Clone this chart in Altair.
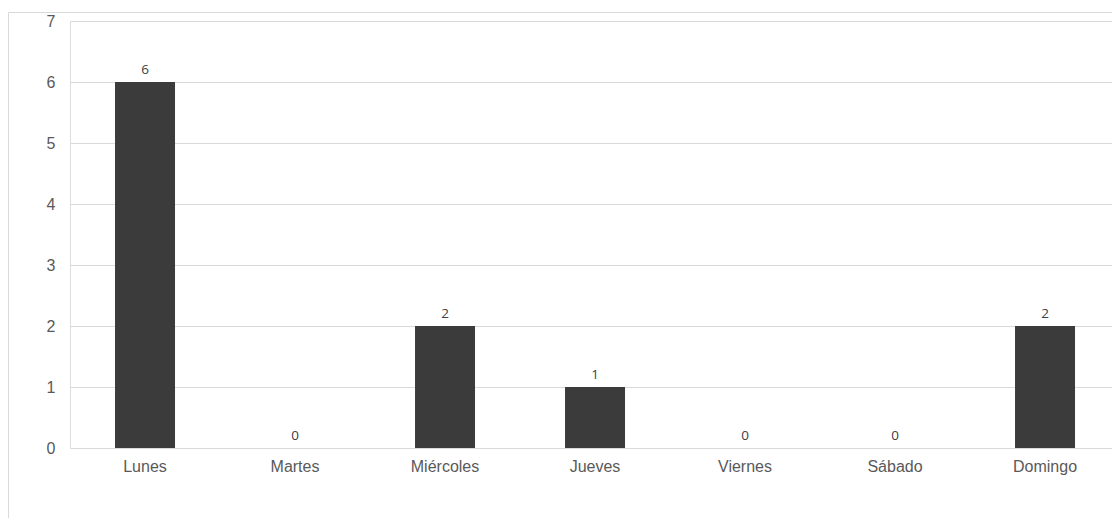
import altair as alt
import pandas as pd

days = ["Lunes", "Martes", "Miércoles", "Jueves", "Viernes", "Sábado", "Domingo"]
counts = [6, 0, 2, 1, 0, 0, 2]
y_ticks = [0, 1, 2, 3, 4, 5, 6, 7]

df = pd.DataFrame({"day": days, "count": counts})

x_scale = alt.Scale(paddingInner=0.6, paddingOuter=0.2733, align=0.549)

x_enc = alt.X("day:N", sort=days, title=None, scale=x_scale,
              axis=alt.Axis(labelAngle=0, ticks=False, domain=False, grid=False,
                            labelFont="Liberation Sans", labelFontSize=16,
                            labelColor="#595959", labelPadding=10))
y_enc = alt.Y("count:Q", title=None,
              scale=alt.Scale(domain=[0, 7], nice=False),
              axis=alt.Axis(values=y_ticks, format="d", ticks=False, domain=False, grid=True,
                            gridColor="#d9d9d9", gridWidth=1,
                            labelFont="Liberation Sans", labelFontSize=16,
                            labelColor="#595959", labelPadding=15))

bars = alt.Chart(df).mark_bar(color="#3b3b3b").encode(x=x_enc, y=y_enc)

labels = alt.Chart(df).mark_text(font="Open Sans", fontSize=13.5, color="#404040",
                                 baseline="bottom", dy=-5).encode(
    x=alt.X("day:N", sort=days), y=alt.Y("count:Q"), text=alt.Text("count:Q"))

border = alt.Chart(alt.Data(values=[{"a": 1}])).mark_rect(
    fill=None, stroke="#d9d9d9", strokeWidth=1).encode(
    x=alt.value(-61.5), x2=alt.value(1300), y=alt.value(-8.5), y2=alt.value(700))

chart = alt.layer(border, bars, labels).properties(
    width=1042, height=427,
    autosize=alt.AutoSizeParams(type="none"),
    padding={"left": 62, "top": 13, "right": 0, "bottom": 70},
).configure_view(stroke=None).configure(background="white")

chart.save("out.html", embed_options={"renderer": "svg", "actions": False})
